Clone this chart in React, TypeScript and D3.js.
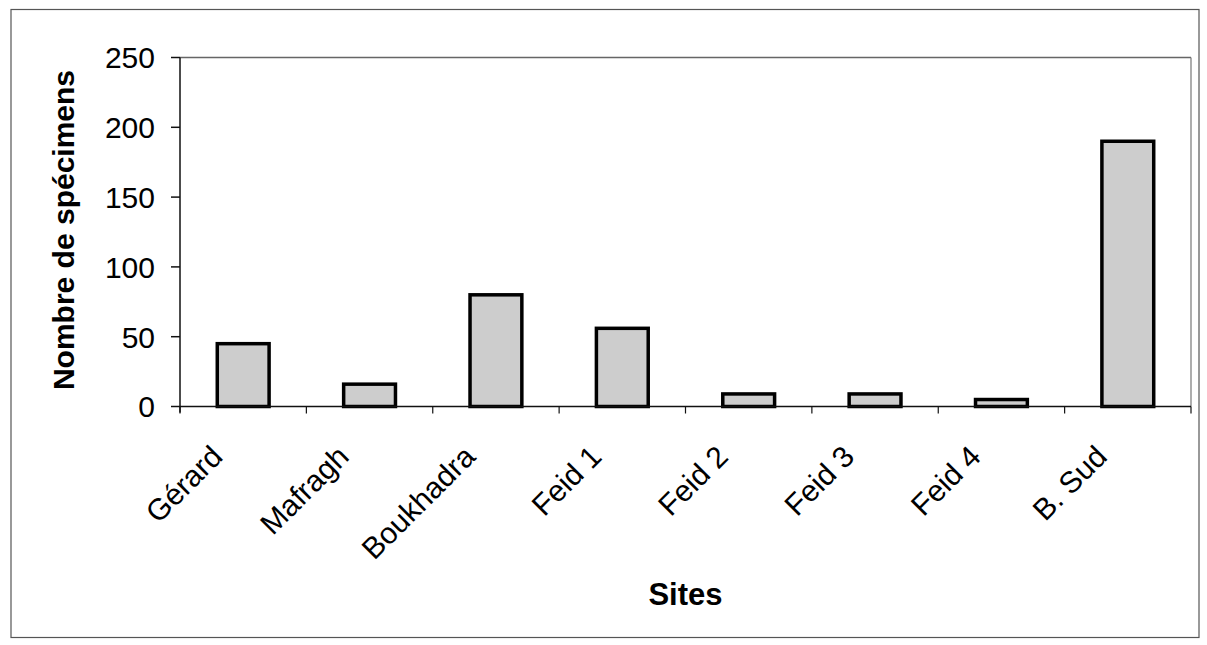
import * as d3 from 'd3';
import * as React from 'react';

const width = 1207;
const height = 645;
const margin = { top: 57.5, right: 16, bottom: 238.5, left: 180 };

const sites = ['Gérard', 'Mafragh', 'Boukhadra', 'Feid 1', 'Feid 2', 'Feid 3', 'Feid 4', 'B. Sud'];
const specimens = [45, 16, 80, 56, 9, 9, 5, 190];
const yTicks = [0, 50, 100, 150, 200, 250];

const font = '"Liberation Sans", Arial, sans-serif';

export default function App() {
  const x = d3
    .scaleBand<string>()
    .domain(sites)
    .range([margin.left, width - margin.right])
    .padding(0);

  const y = d3
    .scaleLinear()
    .domain([0, 250])
    .range([height - margin.bottom, margin.top]);

  const x0 = margin.left;
  const x1 = width - margin.right;
  const y0 = y(0);
  const yTop = y(250);
  const barW = x.step() * 0.41;

  // boundaries between categories get the small ticks
  const bounds = sites.map(s => x(s) as number).concat(x1);

  return (
    <svg
      width={width}
      height={height}
      style={{ position: 'absolute', left: 0, top: 0, background: '#fff' }}
      fontFamily={font}
    >
      <rect x={11} y={9.5} width={1188} height={628} fill="none" stroke="#555" strokeWidth={1.2} />

      {/* plot frame */}
      <line x1={x0} x2={x1} y1={yTop} y2={yTop} stroke="#666" strokeWidth={1.5} />
      <line x1={x1} x2={x1} y1={yTop} y2={y0} stroke="#777" strokeWidth={1.2} />

      {specimens.map((v, i) => {
        const cx = (x(sites[i]) as number) + x.bandwidth() / 2;
        return (
          <rect
            key={sites[i]}
            x={cx - barW / 2}
            y={y(v)}
            width={barW}
            height={y0 - y(v)}
            fill="#cdcdcd"
            stroke="#000"
            strokeWidth={3.5}
          />
        );
      })}

      {/* y axis */}
      <line x1={x0} x2={x0} y1={yTop} y2={y0 + 6} stroke="#111" strokeWidth={1.5} />
      {yTicks.map(t => (
        <g key={t}>
          <line x1={x0 - 9} x2={x0} y1={y(t)} y2={y(t)} stroke="#111" strokeWidth={1.5} />
          <text x={155} y={y(t)} dy="0.36em" textAnchor="end" fontSize={30} fill="#000">
            {t}
          </text>
        </g>
      ))}

      {/* x axis */}
      <line x1={x0} x2={x1} y1={y0} y2={y0} stroke="#111" strokeWidth={1.5} />
      {bounds.map((b, i) => (
        <line key={i} x1={b} x2={b} y1={y0} y2={y0 + 7} stroke="#111" strokeWidth={1.2} />
      ))}
      {sites.map(s => {
        const cx = (x(s) as number) + x.bandwidth() / 2 - 19;
        const ty = y0 + 52;
        return (
          <text
            key={s}
            x={cx}
            y={ty}
            textAnchor="end"
            fontSize={30}
            transform={`rotate(-45,${cx},${ty})`}
          >
            {s}
          </text>
        );
      })}

      <text x={(x0 + x1) / 2} y={605} textAnchor="middle" fontSize={31} fontWeight="bold">
        Sites
      </text>
      <text
        transform={`translate(74,230) rotate(-90)`}
        textAnchor="middle"
        fontSize={30}
        fontWeight="bold"
      >
        Nombre de spécimens
      </text>
    </svg>
  );
}
